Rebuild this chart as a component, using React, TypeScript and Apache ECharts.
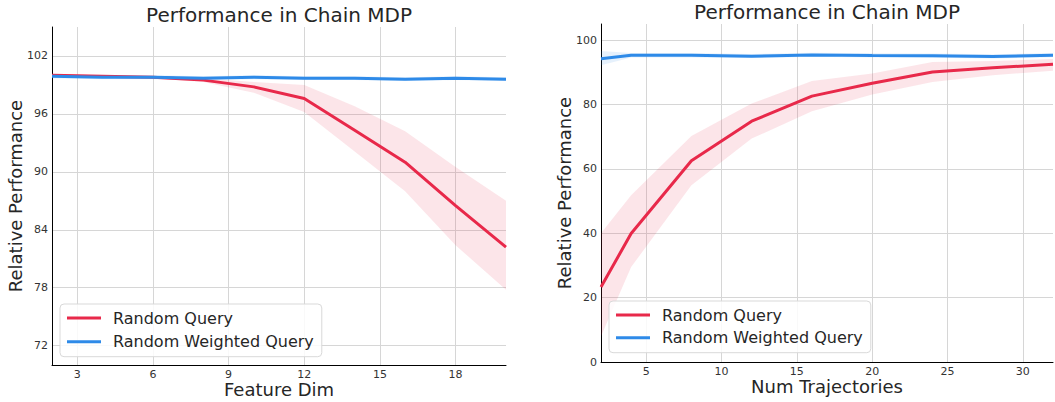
import React, { useEffect, useRef } from "react";
import * as echarts from "echarts";

// ---- Left panel: Feature Dim ----
const featureDim = [2, 4, 6, 8, 10, 12, 14, 16, 18, 20];
const rqLeft = [100.0, 99.9, 99.8, 99.5, 98.8, 97.6, 94.3, 91.0, 86.5, 82.2];
const rqLeftLow = [99.9, 99.8, 99.7, 99.3, 98.2, 96.2, 92.1, 88.0, 82.4, 77.8];
const rqLeftHigh = [100.1, 100.0, 99.9, 99.7, 99.3, 99.0, 96.8, 94.2, 90.5, 87.0];
const rwqLeft = [99.9, 99.8, 99.8, 99.7, 99.8, 99.7, 99.7, 99.6, 99.7, 99.6];
const rwqLeftLow = [99.7, 99.6, 99.6, 99.5, 99.6, 99.5, 99.5, 99.4, 99.5, 99.4];
const rwqLeftHigh = [100.1, 100.0, 100.0, 99.9, 100.0, 99.9, 99.9, 99.8, 99.9, 99.8];
const leftXTicks = [3, 6, 9, 12, 15, 18];
const leftYTicks = [72, 78, 84, 90, 96, 102];

// ---- Right panel: Num Trajectories ----
const numTraj = [2, 4, 8, 12, 16, 20, 24, 28, 32];
const rqRight = [23.3, 39.9, 62.5, 74.8, 82.6, 86.6, 90.1, 91.4, 92.5];
const rqRightLow = [8.0, 29.5, 54.9, 69.4, 77.9, 83.1, 87.0, 89.1, 90.5];
const rqRightHigh = [40.0, 51.8, 70.2, 80.3, 87.3, 89.6, 93.2, 93.5, 94.1];
const rwqRight = [94.2, 95.3, 95.3, 95.0, 95.4, 95.2, 95.1, 94.9, 95.3];
const rwqRightLow = [92.2, 94.6, 94.6, 94.4, 94.8, 94.6, 94.5, 94.3, 94.7];
const rwqRightHigh = [96.6, 96.0, 96.0, 95.7, 96.1, 95.9, 95.8, 95.6, 96.0];
const rightXTicks = [5, 10, 15, 20, 25, 30];
const rightYTicks = [0, 20, 40, 60, 80, 100];

const seriesNames = ["Random Query", "Random Weighted Query"];
const titleText = "Performance in Chain MDP";

const RED = "#e8294a";
const BLUE = "#2e8ae8";
const RED_BAND = "rgba(232,41,74,0.12)";
const BLUE_BAND = "rgba(46,138,232,0.12)";
const FONT = "DejaVu Sans";

function bandSeries(id: string, xs: number[], lo: number[], hi: number[], color: string, axisIndex: number) {
  return {
    name: id,
    type: "custom",
    coordinateSystem: "cartesian2d",
    xAxisIndex: axisIndex,
    yAxisIndex: axisIndex,
    silent: true,
    clip: true,
    z: 1,
    data: xs.map((x, i) => [x, lo[i], hi[i]]),
    encode: { x: 0, y: [1, 2] },
    renderItem: (params: any, api: any) => {
      if (params.dataIndex !== 0) return null;
      const pts: number[][] = [];
      for (let i = 0; i < xs.length; i++) pts.push(api.coord([xs[i], hi[i]]));
      for (let i = xs.length - 1; i >= 0; i--) pts.push(api.coord([xs[i], lo[i]]));
      return { type: "polygon", shape: { points: pts }, style: { fill: color } };
    },
  };
}

function mainSeries(name: string, xs: number[], ys: number[], color: string, axisIndex: number, z: number) {
  return {
    name,
    type: "line",
    xAxisIndex: axisIndex,
    yAxisIndex: axisIndex,
    symbol: "none",
    lineStyle: { color, width: 3 },
    itemStyle: { color },
    data: xs.map((x, i) => [x, ys[i]]),
    z,
  };
}

function xAxis(gridIndex: number, min: number, max: number, ticks: number[]) {
  return {
    type: "value",
    gridIndex,
    min,
    max,
    axisLine: { show: true, onZero: false, lineStyle: { color: "#000", width: 1 } },
    axisTick: { show: false, customValues: ticks },
    axisLabel: { customValues: ticks, color: "#333", fontSize: 11, fontFamily: FONT, margin: 4 },
    splitLine: { show: true, lineStyle: { color: "#d6d6d6", width: 1 } },
  };
}

function yAxis(gridIndex: number, min: number, max: number, ticks: number[]) {
  return {
    type: "value",
    gridIndex,
    min,
    max,
    axisLine: { show: true, onZero: false, lineStyle: { color: "#000", width: 1 } },
    axisTick: { show: false, customValues: ticks },
    axisLabel: { customValues: ticks, color: "#333", fontSize: 11, fontFamily: FONT, margin: 4 },
    splitLine: { show: true, lineStyle: { color: "#d6d6d6", width: 1 } },
  };
}

function legend(left: number, top: number, gap: number) {
  return {
    data: seriesNames,
    orient: "vertical",
    left,
    top,
    icon: "rect",
    itemWidth: 34,
    itemHeight: 3,
    itemGap: gap,
    padding: [4, 8, 5, 7],
    backgroundColor: "rgba(255,255,255,0.85)",
    borderColor: "#d9d9d9",
    borderWidth: 1,
    borderRadius: 4,
    selectedMode: false,
    textStyle: { fontSize: 16, fontFamily: FONT, color: "#262626", lineHeight: 20, padding: [0, 0, 0, 7] },
  };
}

function textEl(text: string, x: number, y: number, size: number, rotation = 0) {
  return {
    type: "text",
    x,
    y,
    rotation,
    style: {
      text,
      fontSize: size,
      fontFamily: FONT,
      fill: "#262626",
      align: "center",
      verticalAlign: "middle",
      textAlign: "center",
      textVerticalAlign: "middle",
    },
  };
}

export default function App() {
  const ref = useRef<HTMLDivElement>(null);
  useEffect(() => {
    if (!ref.current) return;
    const chart = echarts.init(ref.current, null, { renderer: "svg" });
    chart.setOption({
      animation: false,
      backgroundColor: "#fff",
      grid: [
        { left: 52, top: 27, width: 454, height: 338 },
        { left: 601, top: 24, width: 452, height: 338 },
      ],
      xAxis: [xAxis(0, 2, 20, leftXTicks), xAxis(1, 2, 32, rightXTicks)],
      yAxis: [yAxis(0, 70, 105, leftYTicks), yAxis(1, 0, 105, rightYTicks)],
      legend: [legend(60, 304, 3.7), legend(609, 301, 2.7)],
      graphic: [
        textEl(titleText, 279, 15, 20),
        textEl(titleText, 827, 11.5, 20),
        textEl("Feature Dim", 279, 389.5, 18),
        textEl("Num Trajectories", 827, 386.5, 18),
        textEl("Relative Performance", 15, 196, 18, Math.PI / 2),
        textEl("Relative Performance", 564, 193, 18, Math.PI / 2),
      ],
      series: [
        bandSeries("rqL_band", featureDim, rqLeftLow, rqLeftHigh, RED_BAND, 0),
        bandSeries("rwqL_band", featureDim, rwqLeftLow, rwqLeftHigh, BLUE_BAND, 0),
        mainSeries(seriesNames[0], featureDim, rqLeft, RED, 0, 3),
        mainSeries(seriesNames[1], featureDim, rwqLeft, BLUE, 0, 4),
        bandSeries("rqR_band", numTraj, rqRightLow, rqRightHigh, RED_BAND, 1),
        bandSeries("rwqR_band", numTraj, rwqRightLow, rwqRightHigh, BLUE_BAND, 1),
        mainSeries(seriesNames[0], numTraj, rqRight, RED, 1, 3),
        mainSeries(seriesNames[1], numTraj, rwqRight, BLUE, 1, 4),
      ],
    });
    return () => chart.dispose();
  }, []);
  return (
    <div
      ref={ref}
      style={{ position: "absolute", left: 0, top: 0, width: 1055, height: 402 }}
    />
  );
}
